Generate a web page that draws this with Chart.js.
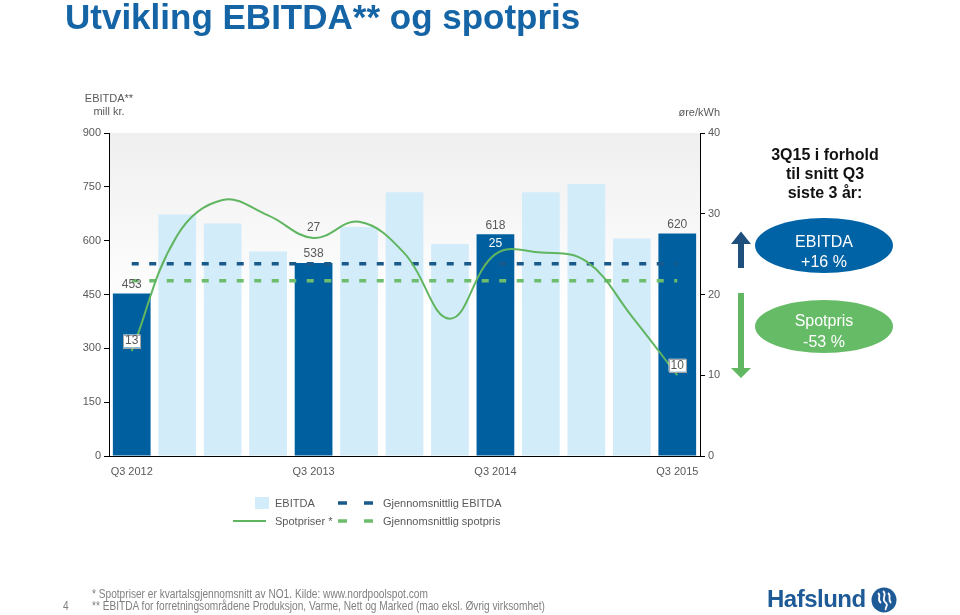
<!DOCTYPE html>
<html>
<head>
<meta charset="utf-8">
<script src="https://cdn.jsdelivr.net/npm/chart.js@4/dist/chart.umd.min.js"></script>
<style>
  body { margin: 0; width: 960px; height: 615px; position: relative; overflow: hidden; background: #fff;
         font-family: "Liberation Sans", Arial, sans-serif; }
  #chart { position: absolute; left: 0; top: 0; }
  .abs { position: absolute; white-space: nowrap; }
  .title { left: 65px; top: -1px; font-size: 35px; font-weight: bold; color: #1565a6; line-height: 36px; }
  .axt { font-size: 11px; color: #595959; line-height: 13px; }
  .panel { left: 725px; top: 145px; width: 200px; text-align: center; font-size: 16px; font-weight: bold;
           color: #111; line-height: 19px; }
  .oval { border-radius: 50%; color: #fff; text-align: center; font-size: 16px; }
  .leg { font-size: 11px; color: #595959; line-height: 13px; }
  .foot { font-size: 12px; color: #808080; line-height: 12px; transform: scaleX(0.845); transform-origin: 0 0; }
  .logo { left: 767px; top: 585px; font-size: 24px; font-weight: bold; color: #1d5a96; line-height: 28px;
          letter-spacing: -0.5px; }
</style>
</head>
<body>
<canvas id="chart" width="960" height="615"></canvas>

<div class="abs title">Utvikling EBITDA** og spotpris</div>

<div class="abs axt" style="left:59px;top:92px;width:100px;text-align:center">EBITDA**<br>mill kr.</div>
<div class="abs axt" style="left:620px;top:106px;width:100px;text-align:right">øre/kWh</div>

<div class="abs panel">3Q15 i forhold<br>til snitt Q3<br>siste 3 år:</div>

<svg class="abs" style="left:725px;top:225px" width="35" height="160">
  <polygon points="13,19 6,19 16,6.5 26,19 19,19 19,43 13,43" fill="#1f4f7d"/>
  <polygon points="13,68 19,68 19,143 26,143 16,153 6,143 13,143" fill="#62b862"/>
</svg>
<div class="abs oval" style="left:755px;top:218px;width:138px;height:55px;background:#0063a6;line-height:20px">
  <div style="padding-top:14px">EBITDA<br>+16 %</div>
</div>
<div class="abs oval" style="left:755px;top:300px;width:138px;height:53px;background:#66bb66;line-height:21px">
  <div style="padding-top:10px">Spotpris<br>-53 %</div>
</div>

<svg class="abs" style="left:230px;top:495px" width="150" height="35">
  <rect x="25" y="2" width="14" height="12" fill="#d3ecfa"/>
  <line x1="108" y1="8" x2="143" y2="8" stroke="#1a5a8a" stroke-width="3.5" stroke-dasharray="9,17"/>
  <line x1="3" y1="26" x2="36" y2="26" stroke="#60b560" stroke-width="2"/>
  <line x1="108" y1="26" x2="143" y2="26" stroke="#6dbd6d" stroke-width="3.5" stroke-dasharray="9,17"/>
</svg>
<div class="abs leg" style="left:275px;top:497px">EBITDA</div>
<div class="abs leg" style="left:383px;top:497px">Gjennomsnittlig EBITDA</div>
<div class="abs leg" style="left:275px;top:515px">Spotpriser *</div>
<div class="abs leg" style="left:383px;top:515px">Gjennomsnittlig spotpris</div>

<div class="abs foot" style="left:63px;top:600px">4</div>
<div class="abs foot" style="left:92px;top:588px">* Spotpriser er kvartalsgjennomsnitt av NO1. Kilde: www.nordpoolspot.com</div>
<div class="abs foot" style="left:92px;top:600px">** EBITDA for forretningsområdene Produksjon, Varme, Nett og Marked (mao eksl. Øvrig virksomhet)</div>

<div class="abs logo">Hafslund</div>
<svg class="abs" style="left:871px;top:587px" width="26" height="26">
  <circle cx="13" cy="13" r="12.5" fill="#1d5a96"/>
  <path d="M7 6 C11 9, 5 12, 10 16 M12 4 C17 8, 9 12, 15 16 C18 19, 13 21, 15 23 M17 6 C21 9, 16 12, 20 16"
        stroke="#fff" stroke-width="1.8" fill="none"/>
</svg>

<script>
// kvartaler, Q3 2012 - Q3 2015
const quarters = ['Q3 2012', 'Q4 2012', 'Q1 2013', 'Q2 2013', 'Q3 2013', 'Q4 2013', 'Q1 2014',
                  'Q2 2014', 'Q3 2014', 'Q4 2014', 'Q1 2015', 'Q2 2015', 'Q3 2015'];
// EBITDA, mill kr.
const ebitda = [453, 673, 648, 570, 538, 638, 735, 591, 618, 735, 758, 606, 620];
// spotpris, øre/kWh
const spotPrice = [13, 27.3, 31.7, 29.8, 27, 29, 25.1, 17, 25, 25.2, 24.1, 17.3, 10];
// snitt Q3 siste 3 år
const avgEbitda = 536;
const avgSpot = 21.7;
// Q3-kvartalene som er uthevet og merket
const q3Index = [0, 4, 8, 12];
const spotLabelStyle = ['box', 'plain', 'white', 'box'];

const darkBlue = '#00609f';
const lightBlue = '#d3ecfa';

const barColors = quarters.map((q, i) => q3Index.includes(i) ? darkBlue : lightBlue);

const bgPlugin = {
  id: 'plotBackground',
  beforeDraw(chart) {
    const { ctx, chartArea: a } = chart;
    const g = ctx.createLinearGradient(0, a.top, 0, a.bottom);
    g.addColorStop(0, '#efefef');
    g.addColorStop(0.55, '#ffffff');
    ctx.save();
    ctx.fillStyle = g;
    ctx.fillRect(a.left, a.top, a.right - a.left, a.bottom - a.top);
    ctx.restore();
  }
};

const labelPlugin = {
  id: 'valueLabels',
  afterDatasetsDraw(chart) {
    const ctx = chart.ctx;
    const bars = chart.getDatasetMeta(0).data;
    const spot = chart.getDatasetMeta(3).data;
    ctx.save();
    ctx.font = '12px "Liberation Sans", Arial, sans-serif';
    ctx.textAlign = 'center';
    ctx.textBaseline = 'middle';
    q3Index.forEach((i, k) => {
      const b = bars[i];
      ctx.fillStyle = '#595959';
      ctx.fillText(String(ebitda[i]), b.x, b.y - 9);

      const p = spot[i];
      const txt = String(spotPrice[i]);
      const y = p.y - 10;
      if (spotLabelStyle[k] === 'box') {
        const w = ctx.measureText(txt).width + 4;
        ctx.fillStyle = '#fff';
        ctx.fillRect(p.x - w / 2, y - 6.5, w, 13);
        ctx.strokeStyle = '#a6a6a6';
        ctx.lineWidth = 1;
        ctx.strokeRect(Math.round(p.x - w / 2) + 0.5, Math.round(y - 6.5) + 0.5, Math.round(w), 13);
        ctx.fillStyle = '#595959';
      } else if (spotLabelStyle[k] === 'white') {
        ctx.fillStyle = '#fff';
      } else {
        ctx.fillStyle = '#595959';
      }
      ctx.fillText(txt, p.x, y);
    });
    ctx.restore();
  }
};

const tickFont = { family: '"Liberation Sans", Arial, sans-serif', size: 11 };

new Chart(document.getElementById('chart'), {
  type: 'bar',
  data: {
    labels: quarters,
    datasets: [
      {
        type: 'bar',
        label: 'EBITDA',
        data: ebitda,
        backgroundColor: barColors,
        yAxisID: 'y',
        barPercentage: 1,
        categoryPercentage: 0.83,
        order: 4
      },
      {
        type: 'line',
        label: 'Gjennomsnittlig EBITDA',
        data: quarters.map(() => avgEbitda),
        borderColor: '#1a5a8a',
        borderWidth: 3.5,
        borderDash: [7, 10.5],
        pointRadius: 0,
        yAxisID: 'y',
        order: 3
      },
      {
        type: 'line',
        label: 'Gjennomsnittlig spotpris',
        data: quarters.map(() => avgSpot),
        borderColor: '#6dbd6d',
        borderWidth: 3.5,
        borderDash: [7, 10.5],
        pointRadius: 0,
        yAxisID: 'y2',
        order: 2
      },
      {
        type: 'line',
        label: 'Spotpriser *',
        data: spotPrice,
        borderColor: '#60b560',
        borderWidth: 2,
        tension: 0.4,
        pointRadius: 0,
        yAxisID: 'y2',
        order: 1
      }
    ]
  },
  options: {
    responsive: false,
    animation: false,
    events: [],
    layout: { padding: { top: 133, left: 0, right: 0, bottom: 0 } },
    plugins: {
      legend: { display: false },
      tooltip: { enabled: false }
    },
    scales: {
      x: {
        grid: { display: false, drawTicks: false },
        border: { display: true, color: '#000', width: 1 },
        ticks: {
          autoSkip: false,
          maxRotation: 0,
          padding: 9,
          color: '#595959',
          font: tickFont,
          callback: (v, i) => q3Index.includes(i) ? quarters[i] : ''
        },
        afterFit: s => { s.height = 159; }
      },
      y: {
        position: 'left',
        min: 0,
        max: 900,
        ticks: { stepSize: 150, color: '#595959', font: tickFont, padding: 3 },
        grid: { display: true, drawOnChartArea: false, drawTicks: true, tickLength: 5, color: '#000' },
        border: { display: true, color: '#000', width: 1 },
        afterFit: s => { s.width = 109; }
      },
      y2: {
        position: 'right',
        min: 0,
        max: 40,
        ticks: { stepSize: 10, color: '#595959', font: tickFont, padding: 3 },
        grid: { display: true, drawOnChartArea: false, drawTicks: true, tickLength: 5, color: '#000' },
        border: { display: true, color: '#000', width: 1 },
        afterFit: s => { s.width = 260; }
      }
    }
  },
  plugins: [bgPlugin, labelPlugin]
});
</script>
</body>
</html>
